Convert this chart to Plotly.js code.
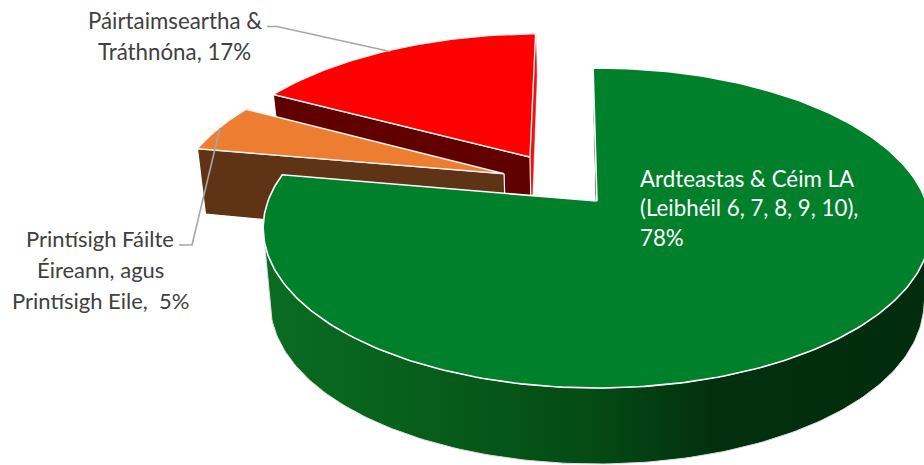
<!DOCTYPE html>
<html>
<head>
<meta charset="utf-8">
<script src="https://cdn.plot.ly/plotly-3.0.1.min.js"></script>
<style>html,body{margin:0;padding:0;background:#fff}#c{width:924px;height:465px}</style>
</head>
<body>
<div id="c"></div>
<script>
// ---- data ----
const categories = ['Ardteastas & Céim LA (Leibhéil 6, 7, 8, 9, 10)', 'Printísigh Fáilte Éireann, agus Printísigh Eile', 'Páirtaimseartha & Tráthnóna'];
const values = [78, 5, 17];
const labelLinesGreen = ['Ardteastas & Céim LA', '(Leibhéil 6, 7, 8, 9, 10),', '78%'];
const labelLinesOrange = ['Printísigh Fáilte', 'Éireann, agus', 'Printísigh Eile,  5%'];
const labelLinesRed = ['Páirtaimseartha &', 'Tráthnóna, 17%'];

// ---- drawing geometry ----
const G = {cx: 597, cy: 201, R: 329, Rq: 155.4, p: 0.169, start: -0.8, inset: 0.98};
const pull = [[0, 0], [-0.291, -0.181], [-0.214, -0.297]];
const radius = [1, 1.012, 1.018];
const topCol = ['#01802c', '#ed7d31', '#ff0000'];
const wallCol = ['#022c0e', '#5f3316', '#600000'];

function project(u, v, low) {
  const s = 1 / (1 - G.p * v);
  let x = G.cx + G.R * u * s, y = G.cy + G.Rq * v * s;
  if (low) {
    x = G.cx + (x - G.cx) * G.inset;
    const d = Math.max(0, (1.2 - s) / 0.26);
    y += 76 - 11 * d * d * d;
  }
  return [x, y];
}
function rim(i, deg, low) {
  const a = deg * Math.PI / 180;
  return project(pull[i][0] + radius[i] * Math.sin(a), pull[i][1] - radius[i] * Math.cos(a), low);
}
function apex(i, low) { return project(pull[i][0], pull[i][1], low); }
function arc(i, a0, a1, low) {
  const out = [], n = Math.max(2, Math.ceil(Math.abs(a1 - a0)));
  for (let k = 0; k <= n; k++) out.push(rim(i, a0 + (a1 - a0) * k / n, low));
  return out;
}
function poly(pts, color, lineColor, lineWidth, extra) {
  const closed = pts.concat([pts[0]]);
  return Object.assign({
    type: 'scatter', mode: 'lines', x: closed.map(p => p[0]), y: closed.map(p => p[1]),
    fill: 'toself', fillcolor: color, line: {color: lineColor, width: lineWidth},
    hoverinfo: 'skip', showlegend: false
  }, extra || {});
}

// slice angle ranges from the values
const total = values.reduce((a, b) => a + b, 0);
const ranges = [];
let acc = G.start;
values.forEach(v => { const d = v / total * 360; ranges.push([acc, acc + d]); acc += d; });

const traces = [];
function radialWall(i, deg, color, lw) {
  return poly([apex(i, false), rim(i, deg, false), rim(i, deg, true), apex(i, true)], color, lw ? '#fff' : color, lw || 0.5);
}
// red
traces.push(radialWall(2, ranges[2][1], '#f01010'));
traces.push(radialWall(2, ranges[2][0], wallCol[2], 1.2));
traces.push(poly([apex(2, false)].concat(arc(2, ranges[2][0], ranges[2][1], false)), topCol[2], '#f2f2f2', 1.4));
// orange
traces.push(radialWall(1, ranges[1][0], wallCol[1], 1.2));
traces.push(poly([apex(1, false)].concat(arc(1, ranges[1][0], ranges[1][1], false)), topCol[1], '#f2f2f2', 1.4));
// green
traces.push(radialWall(0, ranges[0][0], wallCol[0], 1));
const front = arc(0, 100, 260, false).concat(arc(0, 260, 100, true));
traces.push(poly(front, '#022c0e', '#dddddd', 1, {
  fillgradient: {type: 'horizontal', start: 266, stop: 924, colorscale: [
    [0, '#0a6c22'], [0.25, '#075d1b'], [0.5, '#044a14'], [0.68, '#02300f'], [1, '#022c0d']
  ]}
}));
traces.push(poly([apex(0, false)].concat(arc(0, ranges[0][0], ranges[0][1], false)), topCol[0], '#ffffff', 1.6));

// leader lines
const leader = {color: '#a6a6a6', width: 1.6};
traces.push({type: 'scatter', mode: 'lines', x: [267, 277, 390], y: [26.5, 26.5, 51.5], line: leader, hoverinfo: 'skip', showlegend: false});
traces.push({type: 'scatter', mode: 'lines', x: [179, 192, 220], y: [245, 245, 128], line: leader, hoverinfo: 'skip', showlegend: false});

function lines(arr, x, y0, dy, color, anchor, size) {
  return arr.map((t, i) => ({
    text: t, x: x, y: y0 + i * dy, xref: 'x', yref: 'y', showarrow: false,
    xanchor: anchor, yanchor: 'middle', font: {family: 'Lato, sans-serif', size: size, color: color}
  }));
}
const annotations = [].concat(
  lines(labelLinesRed, 174.5, 20, 31.5, '#404040', 'center', 22.3),
  lines(labelLinesOrange, 100, 238, 31, '#404040', 'center', 22),
  lines(labelLinesGreen, 638, 178, 29.8, '#ffffff', 'left', 22.3)
);

Plotly.newPlot('c', traces, {
  width: 924, height: 465, margin: {l: 0, r: 0, t: 0, b: 0},
  paper_bgcolor: '#fff', plot_bgcolor: '#fff', showlegend: false,
  xaxis: {range: [0, 924], visible: false, fixedrange: true},
  yaxis: {range: [465, 0], visible: false, fixedrange: true},
  annotations: annotations
}, {displayModeBar: false, staticPlot: true});
</script>
</body>
</html>
